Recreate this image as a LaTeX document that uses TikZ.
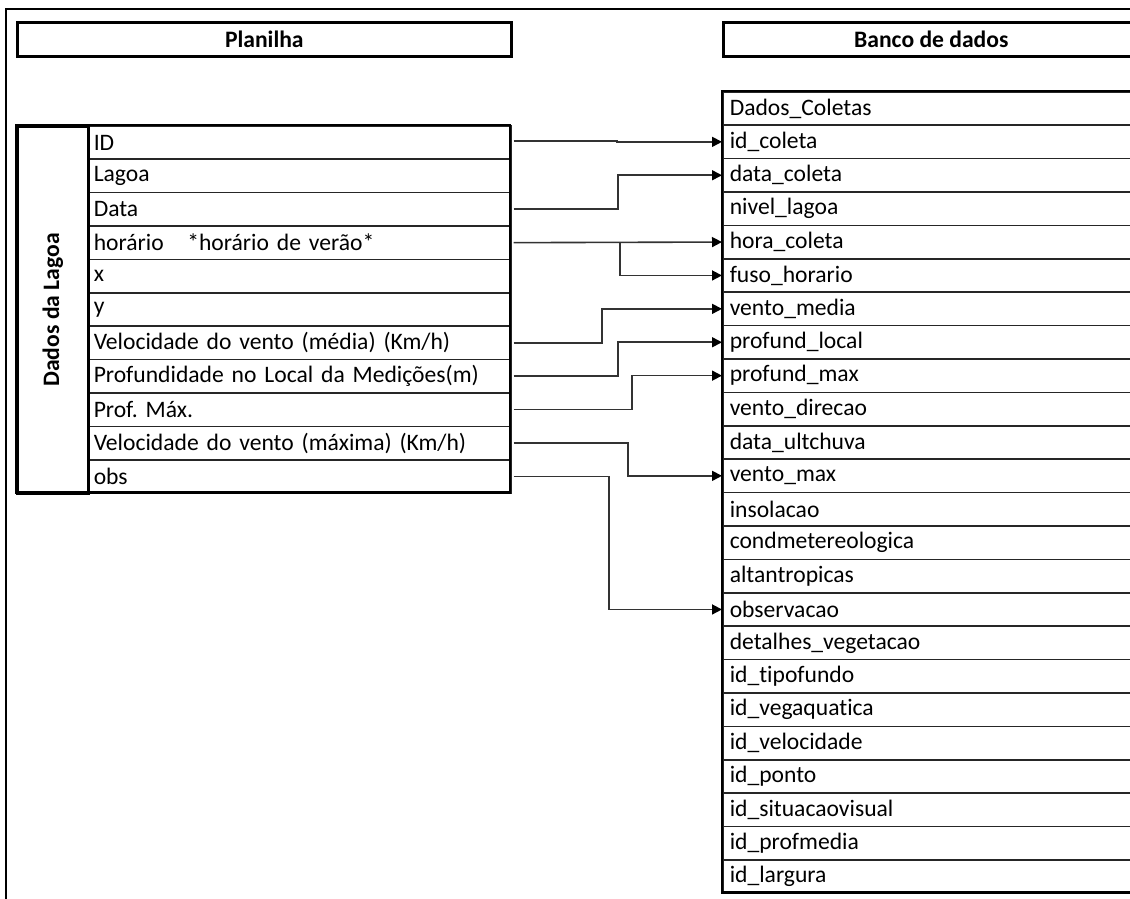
\documentclass[tikz,border=0pt]{standalone}
\usepackage{fontspec}
\setmainfont{Carlito}[Ligatures=NoCommon]
\usetikzlibrary{arrows.meta,calc}
\frenchspacing
\begin{document}
\begin{tikzpicture}[x=1pt,y=-1pt,
  rowtxt/.style={font=\fontsize{23.6}{26}\selectfont},
  lrow/.style={draw=black!85, line width=1.5pt, anchor=north west, minimum height=33.4pt,
    text width=411pt, inner xsep=6pt, inner ysep=0pt, align=left, rowtxt},
  rrow/.style={draw=black!85, line width=1.5pt, anchor=north west, minimum height=33.4pt,
    text width=404pt, inner xsep=7pt, inner ysep=0pt, align=left, rowtxt},
  headbox/.style={draw=black, line width=2.6pt, anchor=north west, minimum height=34pt,
    inner sep=0pt, font=\fontsize{23.6}{26}\selectfont\bfseries},
  conn/.style={draw=black!80, line width=1.6pt},
  arr/.style={conn, -{Triangle[length=10pt,width=10pt,color=black]}}
]
\useasboundingbox (0,0) rectangle (1130,898);
\clip (0,0) rectangle (1130,898);

% outer frame
\draw[line width=1.6pt] (6,900) -- (6,9) -- (1140,9);

% header boxes
\node[headbox, minimum width=494pt] (planilha) at (16,21) {Planilha};
\node[headbox, minimum width=416pt] (banco) at (722,21) {Banco de dados};

% left table
\foreach [count=\i] \t in {ID, Lagoa, Data, {hor\'ario\quad *hor\'ario de ver\~ao*}, x, y,
  {Velocidade do vento (m\'edia) (Km/h)}, {Profundidade no Local da Medi\c{c}\~oes(m)},
  {Prof. M\'ax.}, {Velocidade do vento (m\'axima) (Km/h)}, obs}
  \node[lrow] (L\i) at (87,{125+(\i-1)*33.4}) {\t};
\node[draw=black, line width=2.6pt, anchor=north west, minimum width=71pt,
  minimum height=367.4pt, inner sep=0pt] (grp) at (16,125) {};
\node[rotate=90, font=\fontsize{23.6}{26}\selectfont\bfseries] (grplabel) at (grp.center) {Dados da Lagoa};
\draw[line width=2.6pt] (16,125) rectangle (510,492.4);

% right table
\foreach [count=\i from 0] \t in {Dados\_Coletas, id\_coleta, data\_coleta, nivel\_lagoa,
  hora\_coleta, fuso\_horario, vento\_media, profund\_local, profund\_max, vento\_direcao,
  data\_ultchuva, vento\_max, insolacao, condmetereologica, altantropicas, observacao,
  detalhes\_vegetacao, id\_tipofundo, id\_vegaquatica, id\_velocidade, id\_ponto,
  id\_situacaovisual, id\_profmedia, id\_largura}
  \node[rrow] (r\i) at (722,{91+\i*33.4}) {\t};
\draw[line width=2.6pt] (1140,91) -- (722,91) -- (722,892.6) -- (1140,892.6);

% bend columns
\coordinate (k1) at (617,0);
\coordinate (k2) at (618,0);
\coordinate (k3) at (620,0);
\coordinate (k4) at (602,0);
\coordinate (k5) at (618,0);
\coordinate (k6) at (632,0);
\coordinate (k7) at (628,0);
\coordinate (k8) at (609,0);

% connectors
\draw[arr] ([xshift=2pt,yshift=1.5pt]L1.east) -- ([yshift=1.5pt]L1.east -| k1) -- (r1.west -| k1) -- (r1.west);
\draw[arr] ([xshift=2pt]L3.east) -- (L3.east -| k2) -- (r2.west -| k2) -- (r2.west);
\draw[arr] ([xshift=2pt]L4.east) -- (r4.west);
\draw[arr] (L4.east -| k3) -- (r5.west -| k3) -- (r5.west);
\draw[arr] ([xshift=2pt]L7.east) -- (L7.east -| k4) -- (r6.west -| k4) -- (r6.west);
\draw[arr] ([xshift=2pt]L8.east) -- (L8.east -| k5) -- (r7.west -| k5) -- (r7.west);
\draw[arr] ([xshift=2pt]L9.east) -- (L9.east -| k6) -- (r8.west -| k6) -- (r8.west);
\draw[arr] ([xshift=2pt]L10.east) -- (L10.east -| k7) -- (r11.west -| k7) -- (r11.west);
\draw[arr] ([xshift=2pt]L11.east) -- (L11.east -| k8) -- (r15.west -| k8) -- (r15.west);
\end{tikzpicture}
\end{document}
